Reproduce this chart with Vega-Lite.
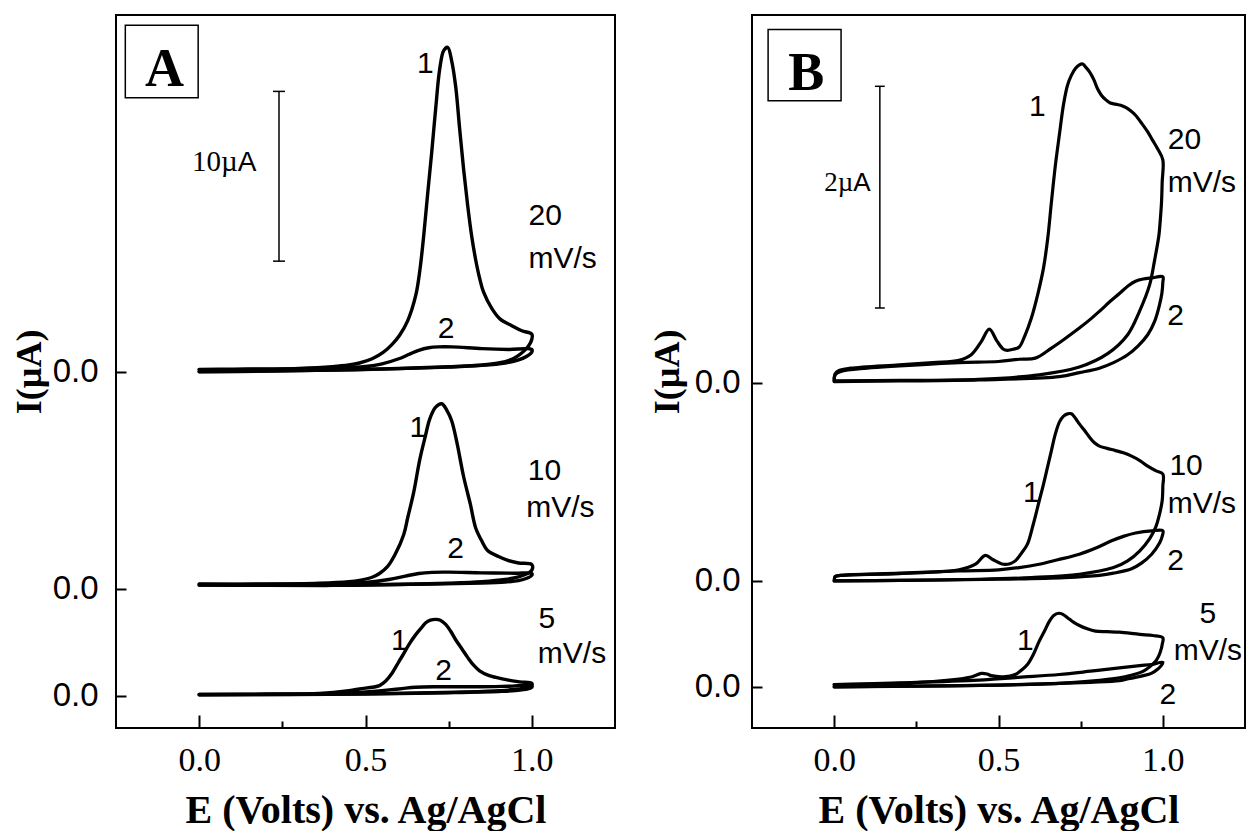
{
"$schema": "https://vega.github.io/schema/vega-lite/v6.json",
"background": "white",
"padding": {"left": 10, "top": 14, "right": 0, "bottom": 0},
"spacing": 137,
"bounds": "flush",
"config": {
  "view": {"stroke": "black", "strokeWidth": 2},
  "axis": {"grid": false, "domain": false, "tickColor": "black", "labelColor": "black", "titleColor": "black", "tickWidth": 2, "labelFlush": false, "labelOverlap": false}
},
"datasets": {
"A": [
{"g":"20-1","k":0,"E":0,"I":0.12},{"g":"20-1","k":1,"E":0.1,"I":0.14},{"g":"20-1","k":2,"E":0.2,"I":0.15},{"g":"20-1","k":3,"E":0.3,"I":0.18},{"g":"20-1","k":4,"E":0.4,"I":0.28},{"g":"20-1","k":5,"E":0.45,"I":0.38},{"g":"20-1","k":6,"E":0.482,"I":0.5},{"g":"20-1","k":7,"E":0.52,"I":0.75},{"g":"20-1","k":8,"E":0.554,"I":1.14},{"g":"20-1","k":9,"E":0.58,"I":1.6},{"g":"20-1","k":10,"E":0.602,"I":2.12},{"g":"20-1","k":11,"E":0.627,"I":3.0},{"g":"20-1","k":12,"E":0.651,"I":4.48},{"g":"20-1","k":13,"E":0.663,"I":5.9},{"g":"20-1","k":14,"E":0.675,"I":8.0},{"g":"20-1","k":15,"E":0.687,"I":10.5},{"g":"20-1","k":16,"E":0.699,"I":12.9},{"g":"20-1","k":17,"E":0.711,"I":15.5},{"g":"20-1","k":18,"E":0.723,"I":17.8},{"g":"20-1","k":19,"E":0.735,"I":18.9},{"g":"20-1","k":20,"E":0.747,"I":19.1},{"g":"20-1","k":21,"E":0.759,"I":18.3},{"g":"20-1","k":22,"E":0.771,"I":16.8},{"g":"20-1","k":23,"E":0.783,"I":14.3},{"g":"20-1","k":24,"E":0.795,"I":11.9},{"g":"20-1","k":25,"E":0.807,"I":9.8},{"g":"20-1","k":26,"E":0.819,"I":8.0},{"g":"20-1","k":27,"E":0.831,"I":6.6},{"g":"20-1","k":28,"E":0.843,"I":5.5},{"g":"20-1","k":29,"E":0.855,"I":4.67},{"g":"20-1","k":30,"E":0.88,"I":3.7},{"g":"20-1","k":31,"E":0.904,"I":3.1},{"g":"20-1","k":32,"E":0.94,"I":2.7},{"g":"20-1","k":33,"E":0.97,"I":2.4},{"g":"20-1","k":34,"E":1.0,"I":2.2},{"g":"20-1","k":35,"E":1.0,"I":1.9},{"g":"20-1","k":36,"E":0.99,"I":1.5},{"g":"20-1","k":37,"E":0.976,"I":1.2},{"g":"20-1","k":38,"E":0.96,"I":0.95},{"g":"20-1","k":39,"E":0.94,"I":0.72},{"g":"20-1","k":40,"E":0.9,"I":0.5},{"g":"20-1","k":41,"E":0.85,"I":0.38},{"g":"20-1","k":42,"E":0.75,"I":0.28},{"g":"20-1","k":43,"E":0.6,"I":0.18},{"g":"20-1","k":44,"E":0.4,"I":0.08},{"g":"20-1","k":45,"E":0.2,"I":0.02},{"g":"20-1","k":46,"E":0,"I":-0.02},
{"g":"20-2","k":0,"E":0,"I":0.1},{"g":"20-2","k":1,"E":0.2,"I":0.12},{"g":"20-2","k":2,"E":0.4,"I":0.2},{"g":"20-2","k":3,"E":0.5,"I":0.3},{"g":"20-2","k":4,"E":0.55,"I":0.45},{"g":"20-2","k":5,"E":0.6,"I":0.75},{"g":"20-2","k":6,"E":0.63,"I":1.0},{"g":"20-2","k":7,"E":0.66,"I":1.25},{"g":"20-2","k":8,"E":0.69,"I":1.4},{"g":"20-2","k":9,"E":0.72,"I":1.45},{"g":"20-2","k":10,"E":0.76,"I":1.45},{"g":"20-2","k":11,"E":0.85,"I":1.35},{"g":"20-2","k":12,"E":0.93,"I":1.3},{"g":"20-2","k":13,"E":1.0,"I":1.3},{"g":"20-2","k":14,"E":1.0,"I":1.15},{"g":"20-2","k":15,"E":0.985,"I":0.9},{"g":"20-2","k":16,"E":0.96,"I":0.68},{"g":"20-2","k":17,"E":0.92,"I":0.5},{"g":"20-2","k":18,"E":0.85,"I":0.36},{"g":"20-2","k":19,"E":0.75,"I":0.26},{"g":"20-2","k":20,"E":0.6,"I":0.17},{"g":"20-2","k":21,"E":0.4,"I":0.08},{"g":"20-2","k":22,"E":0.2,"I":0.03},{"g":"20-2","k":23,"E":0,"I":0.0},
{"g":"10-1","k":0,"E":0,"I":-12.52},{"g":"10-1","k":1,"E":0.2,"I":-12.52},{"g":"10-1","k":2,"E":0.36,"I":-12.47},{"g":"10-1","k":3,"E":0.45,"I":-12.38},{"g":"10-1","k":4,"E":0.482,"I":-12.3},{"g":"10-1","k":5,"E":0.52,"I":-12.12},{"g":"10-1","k":6,"E":0.542,"I":-11.9},{"g":"10-1","k":7,"E":0.566,"I":-11.5},{"g":"10-1","k":8,"E":0.59,"I":-10.74},{"g":"10-1","k":9,"E":0.615,"I":-9.6},{"g":"10-1","k":10,"E":0.627,"I":-8.6},{"g":"10-1","k":11,"E":0.645,"I":-7.1},{"g":"10-1","k":12,"E":0.663,"I":-5.2},{"g":"10-1","k":13,"E":0.68,"I":-3.8},{"g":"10-1","k":14,"E":0.693,"I":-2.8},{"g":"10-1","k":15,"E":0.711,"I":-2.1},{"g":"10-1","k":16,"E":0.729,"I":-1.9},{"g":"10-1","k":17,"E":0.745,"I":-2.3},{"g":"10-1","k":18,"E":0.759,"I":-2.9},{"g":"10-1","k":19,"E":0.775,"I":-4.2},{"g":"10-1","k":20,"E":0.795,"I":-6.2},{"g":"10-1","k":21,"E":0.815,"I":-7.8},{"g":"10-1","k":22,"E":0.831,"I":-9.2},{"g":"10-1","k":23,"E":0.85,"I":-10.0},{"g":"10-1","k":24,"E":0.867,"I":-10.54},{"g":"10-1","k":25,"E":0.9,"I":-10.9},{"g":"10-1","k":26,"E":0.928,"I":-11.13},{"g":"10-1","k":27,"E":0.96,"I":-11.28},{"g":"10-1","k":28,"E":1.0,"I":-11.37},{"g":"10-1","k":29,"E":1.0,"I":-11.7},{"g":"10-1","k":30,"E":0.985,"I":-11.92},{"g":"10-1","k":31,"E":0.96,"I":-12.1},{"g":"10-1","k":32,"E":0.92,"I":-12.25},{"g":"10-1","k":33,"E":0.85,"I":-12.38},{"g":"10-1","k":34,"E":0.75,"I":-12.47},{"g":"10-1","k":35,"E":0.6,"I":-12.55},{"g":"10-1","k":36,"E":0.4,"I":-12.6},{"g":"10-1","k":37,"E":0.2,"I":-12.6},{"g":"10-1","k":38,"E":0,"I":-12.58},
{"g":"10-2","k":0,"E":0,"I":-12.55},{"g":"10-2","k":1,"E":0.2,"I":-12.54},{"g":"10-2","k":2,"E":0.4,"I":-12.5},{"g":"10-2","k":3,"E":0.5,"I":-12.42},{"g":"10-2","k":4,"E":0.57,"I":-12.25},{"g":"10-2","k":5,"E":0.62,"I":-12.05},{"g":"10-2","k":6,"E":0.66,"I":-11.9},{"g":"10-2","k":7,"E":0.7,"I":-11.83},{"g":"10-2","k":8,"E":0.75,"I":-11.82},{"g":"10-2","k":9,"E":0.85,"I":-11.86},{"g":"10-2","k":10,"E":0.95,"I":-11.88},{"g":"10-2","k":11,"E":1.0,"I":-11.9},{"g":"10-2","k":12,"E":1.0,"I":-12.0},{"g":"10-2","k":13,"E":0.985,"I":-12.18},{"g":"10-2","k":14,"E":0.96,"I":-12.32},{"g":"10-2","k":15,"E":0.92,"I":-12.4},{"g":"10-2","k":16,"E":0.85,"I":-12.46},{"g":"10-2","k":17,"E":0.7,"I":-12.52},{"g":"10-2","k":18,"E":0.4,"I":-12.58},{"g":"10-2","k":19,"E":0,"I":-12.58},
{"g":"5-1","k":0,"E":0,"I":-19.02},{"g":"5-1","k":1,"E":0.2,"I":-19.0},{"g":"5-1","k":2,"E":0.361,"I":-18.96},{"g":"5-1","k":3,"E":0.45,"I":-18.8},{"g":"5-1","k":4,"E":0.482,"I":-18.7},{"g":"5-1","k":5,"E":0.542,"I":-18.5},{"g":"5-1","k":6,"E":0.56,"I":-18.25},{"g":"5-1","k":7,"E":0.578,"I":-17.82},{"g":"5-1","k":8,"E":0.6,"I":-17.1},{"g":"5-1","k":9,"E":0.614,"I":-16.65},{"g":"5-1","k":10,"E":0.63,"I":-16.1},{"g":"5-1","k":11,"E":0.651,"I":-15.5},{"g":"5-1","k":12,"E":0.67,"I":-15.05},{"g":"5-1","k":13,"E":0.681,"I":-14.8},{"g":"5-1","k":14,"E":0.695,"I":-14.65},{"g":"5-1","k":15,"E":0.711,"I":-14.6},{"g":"5-1","k":16,"E":0.725,"I":-14.65},{"g":"5-1","k":17,"E":0.741,"I":-14.9},{"g":"5-1","k":18,"E":0.756,"I":-15.3},{"g":"5-1","k":19,"E":0.771,"I":-15.8},{"g":"5-1","k":20,"E":0.79,"I":-16.35},{"g":"5-1","k":21,"E":0.807,"I":-16.84},{"g":"5-1","k":22,"E":0.825,"I":-17.3},{"g":"5-1","k":23,"E":0.843,"I":-17.63},{"g":"5-1","k":24,"E":0.87,"I":-17.9},{"g":"5-1","k":25,"E":0.892,"I":-18.02},{"g":"5-1","k":26,"E":0.93,"I":-18.18},{"g":"5-1","k":27,"E":0.964,"I":-18.28},{"g":"5-1","k":28,"E":1.0,"I":-18.37},{"g":"5-1","k":29,"E":1.0,"I":-18.48},{"g":"5-1","k":30,"E":0.988,"I":-18.6},{"g":"5-1","k":31,"E":0.96,"I":-18.7},{"g":"5-1","k":32,"E":0.904,"I":-18.8},{"g":"5-1","k":33,"E":0.8,"I":-18.88},{"g":"5-1","k":34,"E":0.602,"I":-18.96},{"g":"5-1","k":35,"E":0.3,"I":-19.02},{"g":"5-1","k":36,"E":0,"I":-19.04},
{"g":"5-2","k":0,"E":0,"I":-19.02},{"g":"5-2","k":1,"E":0.3,"I":-19.0},{"g":"5-2","k":2,"E":0.482,"I":-18.9},{"g":"5-2","k":3,"E":0.6,"I":-18.7},{"g":"5-2","k":4,"E":0.65,"I":-18.6},{"g":"5-2","k":5,"E":0.72,"I":-18.57},{"g":"5-2","k":6,"E":0.843,"I":-18.57},{"g":"5-2","k":7,"E":0.93,"I":-18.54},{"g":"5-2","k":8,"E":1.0,"I":-18.51},{"g":"5-2","k":9,"E":1.0,"I":-18.6},{"g":"5-2","k":10,"E":0.988,"I":-18.7},{"g":"5-2","k":11,"E":0.95,"I":-18.8},{"g":"5-2","k":12,"E":0.9,"I":-18.85},{"g":"5-2","k":13,"E":0.75,"I":-18.92},{"g":"5-2","k":14,"E":0.5,"I":-19.0},{"g":"5-2","k":15,"E":0,"I":-19.04}
],
"B": [
{"g":"20-1","k":0,"E":0,"I":0.02},{"g":"20-1","k":1,"E":0.003,"I":0.08},{"g":"20-1","k":2,"E":0.015,"I":0.11},{"g":"20-1","k":3,"E":0.05,"I":0.13},{"g":"20-1","k":4,"E":0.198,"I":0.16},{"g":"20-1","k":5,"E":0.3,"I":0.18},{"g":"20-1","k":6,"E":0.38,"I":0.2},{"g":"20-1","k":7,"E":0.417,"I":0.25},{"g":"20-1","k":8,"E":0.448,"I":0.37},{"g":"20-1","k":9,"E":0.472,"I":0.48},{"g":"20-1","k":10,"E":0.496,"I":0.37},{"g":"20-1","k":11,"E":0.515,"I":0.3},{"g":"20-1","k":12,"E":0.527,"I":0.29},{"g":"20-1","k":13,"E":0.545,"I":0.3},{"g":"20-1","k":14,"E":0.563,"I":0.32},{"g":"20-1","k":15,"E":0.58,"I":0.42},{"g":"20-1","k":16,"E":0.6,"I":0.58},{"g":"20-1","k":17,"E":0.62,"I":0.8},{"g":"20-1","k":18,"E":0.637,"I":1.03},{"g":"20-1","k":19,"E":0.65,"I":1.3},{"g":"20-1","k":20,"E":0.661,"I":1.62},{"g":"20-1","k":21,"E":0.673,"I":1.95},{"g":"20-1","k":22,"E":0.685,"I":2.22},{"g":"20-1","k":23,"E":0.698,"I":2.5},{"g":"20-1","k":24,"E":0.71,"I":2.67},{"g":"20-1","k":25,"E":0.722,"I":2.76},{"g":"20-1","k":26,"E":0.734,"I":2.82},{"g":"20-1","k":27,"E":0.745,"I":2.85},{"g":"20-1","k":28,"E":0.756,"I":2.86},{"g":"20-1","k":29,"E":0.766,"I":2.83},{"g":"20-1","k":30,"E":0.777,"I":2.79},{"g":"20-1","k":31,"E":0.79,"I":2.72},{"g":"20-1","k":32,"E":0.801,"I":2.64},{"g":"20-1","k":33,"E":0.813,"I":2.58},{"g":"20-1","k":34,"E":0.826,"I":2.54},{"g":"20-1","k":35,"E":0.84,"I":2.51},{"g":"20-1","k":36,"E":0.856,"I":2.5},{"g":"20-1","k":37,"E":0.872,"I":2.49},{"g":"20-1","k":38,"E":0.887,"I":2.47},{"g":"20-1","k":39,"E":0.902,"I":2.44},{"g":"20-1","k":40,"E":0.917,"I":2.4},{"g":"20-1","k":41,"E":0.935,"I":2.33},{"g":"20-1","k":42,"E":0.954,"I":2.25},{"g":"20-1","k":43,"E":0.97,"I":2.17},{"g":"20-1","k":44,"E":0.984,"I":2.1},{"g":"20-1","k":45,"E":1.0,"I":2.0},{"g":"20-1","k":46,"E":0.998,"I":1.8},{"g":"20-1","k":47,"E":0.996,"I":1.62},{"g":"20-1","k":48,"E":0.992,"I":1.45},{"g":"20-1","k":49,"E":0.988,"I":1.32},{"g":"20-1","k":50,"E":0.975,"I":1.1},{"g":"20-1","k":51,"E":0.96,"I":0.88},{"g":"20-1","k":52,"E":0.929,"I":0.64},{"g":"20-1","k":53,"E":0.893,"I":0.43},{"g":"20-1","k":54,"E":0.832,"I":0.26},{"g":"20-1","k":55,"E":0.746,"I":0.14},{"g":"20-1","k":56,"E":0.624,"I":0.07},{"g":"20-1","k":57,"E":0.44,"I":0.03},{"g":"20-1","k":58,"E":0.2,"I":0.02},{"g":"20-1","k":59,"E":0,"I":0.015},
{"g":"20-2","k":0,"E":0,"I":0.01},{"g":"20-2","k":1,"E":0.003,"I":0.07},{"g":"20-2","k":2,"E":0.02,"I":0.1},{"g":"20-2","k":3,"E":0.1,"I":0.13},{"g":"20-2","k":4,"E":0.198,"I":0.15},{"g":"20-2","k":5,"E":0.38,"I":0.18},{"g":"20-2","k":6,"E":0.5,"I":0.19},{"g":"20-2","k":7,"E":0.563,"I":0.21},{"g":"20-2","k":8,"E":0.612,"I":0.22},{"g":"20-2","k":9,"E":0.661,"I":0.31},{"g":"20-2","k":10,"E":0.7,"I":0.39},{"g":"20-2","k":11,"E":0.746,"I":0.49},{"g":"20-2","k":12,"E":0.78,"I":0.57},{"g":"20-2","k":13,"E":0.807,"I":0.64},{"g":"20-2","k":14,"E":0.84,"I":0.73},{"g":"20-2","k":15,"E":0.868,"I":0.8},{"g":"20-2","k":16,"E":0.895,"I":0.87},{"g":"20-2","k":17,"E":0.917,"I":0.91},{"g":"20-2","k":18,"E":0.94,"I":0.93},{"g":"20-2","k":19,"E":0.966,"I":0.94},{"g":"20-2","k":20,"E":1.0,"I":0.95},{"g":"20-2","k":21,"E":1.0,"I":0.9},{"g":"20-2","k":22,"E":0.997,"I":0.8},{"g":"20-2","k":23,"E":0.99,"I":0.7},{"g":"20-2","k":24,"E":0.975,"I":0.55},{"g":"20-2","k":25,"E":0.954,"I":0.43},{"g":"20-2","k":26,"E":0.925,"I":0.33},{"g":"20-2","k":27,"E":0.893,"I":0.25},{"g":"20-2","k":28,"E":0.85,"I":0.18},{"g":"20-2","k":29,"E":0.807,"I":0.13},{"g":"20-2","k":30,"E":0.746,"I":0.09},{"g":"20-2","k":31,"E":0.685,"I":0.054},{"g":"20-2","k":32,"E":0.44,"I":0.024},{"g":"20-2","k":33,"E":0.2,"I":0.015},{"g":"20-2","k":34,"E":0,"I":0.01},
{"g":"10-1","k":0,"E":0,"I":-1.78},{"g":"10-1","k":1,"E":0.003,"I":-1.74},{"g":"10-1","k":2,"E":0.02,"I":-1.73},{"g":"10-1","k":3,"E":0.198,"I":-1.714},{"g":"10-1","k":4,"E":0.38,"I":-1.68},{"g":"10-1","k":5,"E":0.43,"I":-1.63},{"g":"10-1","k":6,"E":0.46,"I":-1.55},{"g":"10-1","k":7,"E":0.484,"I":-1.59},{"g":"10-1","k":8,"E":0.515,"I":-1.63},{"g":"10-1","k":9,"E":0.535,"I":-1.625},{"g":"10-1","k":10,"E":0.551,"I":-1.6},{"g":"10-1","k":11,"E":0.57,"I":-1.53},{"g":"10-1","k":12,"E":0.588,"I":-1.45},{"g":"10-1","k":13,"E":0.605,"I":-1.28},{"g":"10-1","k":14,"E":0.624,"I":-1.06},{"g":"10-1","k":15,"E":0.637,"I":-0.91},{"g":"10-1","k":16,"E":0.649,"I":-0.76},{"g":"10-1","k":17,"E":0.661,"I":-0.61},{"g":"10-1","k":18,"E":0.673,"I":-0.46},{"g":"10-1","k":19,"E":0.686,"I":-0.35},{"g":"10-1","k":20,"E":0.698,"I":-0.3},{"g":"10-1","k":21,"E":0.71,"I":-0.28},{"g":"10-1","k":22,"E":0.722,"I":-0.28},{"g":"10-1","k":23,"E":0.734,"I":-0.32},{"g":"10-1","k":24,"E":0.746,"I":-0.37},{"g":"10-1","k":25,"E":0.762,"I":-0.43},{"g":"10-1","k":26,"E":0.777,"I":-0.49},{"g":"10-1","k":27,"E":0.792,"I":-0.54},{"g":"10-1","k":28,"E":0.807,"I":-0.57},{"g":"10-1","k":29,"E":0.83,"I":-0.59},{"g":"10-1","k":30,"E":0.856,"I":-0.61},{"g":"10-1","k":31,"E":0.88,"I":-0.63},{"g":"10-1","k":32,"E":0.905,"I":-0.66},{"g":"10-1","k":33,"E":0.93,"I":-0.7},{"g":"10-1","k":34,"E":0.954,"I":-0.75},{"g":"10-1","k":35,"E":0.978,"I":-0.79},{"g":"10-1","k":36,"E":1.0,"I":-0.82},{"g":"10-1","k":37,"E":1.0,"I":-0.93},{"g":"10-1","k":38,"E":0.998,"I":-1.06},{"g":"10-1","k":39,"E":0.99,"I":-1.18},{"g":"10-1","k":40,"E":0.978,"I":-1.3},{"g":"10-1","k":41,"E":0.96,"I":-1.4},{"g":"10-1","k":42,"E":0.93,"I":-1.51},{"g":"10-1","k":43,"E":0.893,"I":-1.6},{"g":"10-1","k":44,"E":0.85,"I":-1.66},{"g":"10-1","k":45,"E":0.746,"I":-1.72},{"g":"10-1","k":46,"E":0.6,"I":-1.75},{"g":"10-1","k":47,"E":0.44,"I":-1.765},{"g":"10-1","k":48,"E":0.2,"I":-1.775},{"g":"10-1","k":49,"E":0,"I":-1.78},
{"g":"10-2","k":0,"E":0,"I":-1.78},{"g":"10-2","k":1,"E":0.003,"I":-1.74},{"g":"10-2","k":2,"E":0.02,"I":-1.73},{"g":"10-2","k":3,"E":0.198,"I":-1.71},{"g":"10-2","k":4,"E":0.38,"I":-1.69},{"g":"10-2","k":5,"E":0.5,"I":-1.68},{"g":"10-2","k":6,"E":0.563,"I":-1.66},{"g":"10-2","k":7,"E":0.624,"I":-1.63},{"g":"10-2","k":8,"E":0.68,"I":-1.59},{"g":"10-2","k":9,"E":0.746,"I":-1.54},{"g":"10-2","k":10,"E":0.8,"I":-1.48},{"g":"10-2","k":11,"E":0.844,"I":-1.42},{"g":"10-2","k":12,"E":0.88,"I":-1.38},{"g":"10-2","k":13,"E":0.917,"I":-1.35},{"g":"10-2","k":14,"E":0.966,"I":-1.33},{"g":"10-2","k":15,"E":1.0,"I":-1.33},{"g":"10-2","k":16,"E":0.998,"I":-1.38},{"g":"10-2","k":17,"E":0.99,"I":-1.44},{"g":"10-2","k":18,"E":0.966,"I":-1.54},{"g":"10-2","k":19,"E":0.935,"I":-1.62},{"g":"10-2","k":20,"E":0.905,"I":-1.67},{"g":"10-2","k":21,"E":0.85,"I":-1.71},{"g":"10-2","k":22,"E":0.807,"I":-1.73},{"g":"10-2","k":23,"E":0.7,"I":-1.75},{"g":"10-2","k":24,"E":0.5,"I":-1.765},{"g":"10-2","k":25,"E":0.2,"I":-1.775},{"g":"10-2","k":26,"E":0,"I":-1.78},
{"g":"5-1","k":0,"E":0,"I":-2.71},{"g":"5-1","k":1,"E":0.198,"I":-2.7},{"g":"5-1","k":2,"E":0.38,"I":-2.66},{"g":"5-1","k":3,"E":0.42,"I":-2.64},{"g":"5-1","k":4,"E":0.448,"I":-2.61},{"g":"5-1","k":5,"E":0.465,"I":-2.615},{"g":"5-1","k":6,"E":0.478,"I":-2.63},{"g":"5-1","k":7,"E":0.515,"I":-2.64},{"g":"5-1","k":8,"E":0.551,"I":-2.62},{"g":"5-1","k":9,"E":0.57,"I":-2.58},{"g":"5-1","k":10,"E":0.588,"I":-2.53},{"g":"5-1","k":11,"E":0.606,"I":-2.44},{"g":"5-1","k":12,"E":0.624,"I":-2.32},{"g":"5-1","k":13,"E":0.64,"I":-2.23},{"g":"5-1","k":14,"E":0.655,"I":-2.14},{"g":"5-1","k":15,"E":0.668,"I":-2.09},{"g":"5-1","k":16,"E":0.683,"I":-2.07},{"g":"5-1","k":17,"E":0.696,"I":-2.08},{"g":"5-1","k":18,"E":0.71,"I":-2.11},{"g":"5-1","k":19,"E":0.728,"I":-2.15},{"g":"5-1","k":20,"E":0.746,"I":-2.18},{"g":"5-1","k":21,"E":0.77,"I":-2.21},{"g":"5-1","k":22,"E":0.795,"I":-2.23},{"g":"5-1","k":23,"E":0.83,"I":-2.235},{"g":"5-1","k":24,"E":0.868,"I":-2.24},{"g":"5-1","k":25,"E":0.93,"I":-2.26},{"g":"5-1","k":26,"E":0.97,"I":-2.27},{"g":"5-1","k":27,"E":1.0,"I":-2.29},{"g":"5-1","k":28,"E":0.998,"I":-2.35},{"g":"5-1","k":29,"E":0.996,"I":-2.38},{"g":"5-1","k":30,"E":0.988,"I":-2.45},{"g":"5-1","k":31,"E":0.978,"I":-2.5},{"g":"5-1","k":32,"E":0.96,"I":-2.55},{"g":"5-1","k":33,"E":0.941,"I":-2.59},{"g":"5-1","k":34,"E":0.9,"I":-2.63},{"g":"5-1","k":35,"E":0.868,"I":-2.65},{"g":"5-1","k":36,"E":0.78,"I":-2.68},{"g":"5-1","k":37,"E":0.685,"I":-2.7},{"g":"5-1","k":38,"E":0.5,"I":-2.715},{"g":"5-1","k":39,"E":0.2,"I":-2.725},{"g":"5-1","k":40,"E":0,"I":-2.73},
{"g":"5-2","k":0,"E":0,"I":-2.71},{"g":"5-2","k":1,"E":0.2,"I":-2.695},{"g":"5-2","k":2,"E":0.44,"I":-2.67},{"g":"5-2","k":3,"E":0.56,"I":-2.645},{"g":"5-2","k":4,"E":0.685,"I":-2.62},{"g":"5-2","k":5,"E":0.78,"I":-2.59},{"g":"5-2","k":6,"E":0.868,"I":-2.56},{"g":"5-2","k":7,"E":0.93,"I":-2.54},{"g":"5-2","k":8,"E":0.966,"I":-2.53},{"g":"5-2","k":9,"E":1.0,"I":-2.51},{"g":"5-2","k":10,"E":0.995,"I":-2.54},{"g":"5-2","k":11,"E":0.985,"I":-2.57},{"g":"5-2","k":12,"E":0.965,"I":-2.61},{"g":"5-2","k":13,"E":0.941,"I":-2.63},{"g":"5-2","k":14,"E":0.9,"I":-2.655},{"g":"5-2","k":15,"E":0.868,"I":-2.676},{"g":"5-2","k":16,"E":0.78,"I":-2.69},{"g":"5-2","k":17,"E":0.685,"I":-2.7},{"g":"5-2","k":18,"E":0.5,"I":-2.715},{"g":"5-2","k":19,"E":0,"I":-2.73}
]
},
"hconcat": [
{
  "width": 499, "height": 713,
  "encoding": {
    "x": {"field": "E", "type": "quantitative", "scale": {"domain": [-0.25, 1.25], "nice": false, "zero": false},
      "axis": {"values": [0, 0.25, 0.5, 0.75, 1], "labelExpr": "datum.value % 0.5 === 0 ? format(datum.value, '.1f') : ''",
        "tickSize": {"condition": {"test": "datum.value % 0.5 === 0", "value": -13}, "value": -7},
        "labelPadding": 28, "labelFont": "Liberation Serif", "labelFontSize": 34,
        "title": "E (Volts) vs. Ag/AgCl", "titleFont": "Liberation Serif", "titleFontWeight": "bold", "titleFontSize": 40, "titlePadding": 7}},
    "y": {"field": "I", "type": "quantitative", "scale": {"domain": [-21, 21], "nice": false, "zero": false},
      "axis": {"values": [0, -12.8, -19.1], "labelExpr": "'0.0'", "tickSize": -10, "labelPadding": 28,
        "labelFont": "Liberation Sans", "labelFontSize": 33,
        "title": "I(µA)", "titleFont": "Liberation Serif", "titleFontWeight": "bold", "titleFontSize": 36, "titlePadding": 4}}
  },
  "layer": [
    {"data": {"name": "A"},
     "mark": {"type": "line", "color": "black", "strokeWidth": 3.4, "interpolate": "catmull-rom", "strokeJoin": "round", "strokeCap": "round"},
     "encoding": {"detail": {"field": "g", "type": "nominal"}, "order": {"field": "k", "type": "quantitative"}}},
    {"data": {"values": [{"E": -0.222, "E2": -0.003, "I": 16.13, "I2": 20.39}]},
     "mark": {"type": "rect", "fill": "white", "stroke": "black", "strokeWidth": 1.5},
     "encoding": {"x2": {"field": "E2"}, "y2": {"field": "I2"}}},
    {"data": {"values": [{"t": "A", "E": -0.104, "I": 16.82}]},
     "mark": {"type": "text", "font": "Liberation Serif", "fontWeight": "bold", "fontSize": 54, "align": "center", "baseline": "alphabetic", "color": "black"},
     "encoding": {"text": {"field": "t"}}},
    {"data": {"values": [{"E": 0.24, "I": 6.5, "I2": 16.5}]},
     "mark": {"type": "rule", "color": "black", "strokeWidth": 1.5},
     "encoding": {"y2": {"field": "I2"}}},
    {"data": {"values": [{"E": 0.222, "E2": 0.258, "I": 16.5}, {"E": 0.222, "E2": 0.258, "I": 6.5}]},
     "mark": {"type": "rule", "color": "black", "strokeWidth": 1.5},
     "encoding": {"x2": {"field": "E2"}}},
    {"data": {"values": [{"t": "10µ", "E": 0.116, "I": 11.8}]},
     "mark": {"type": "text", "font": "Liberation Serif", "fontSize": 29, "align": "right", "baseline": "alphabetic", "color": "black"},
     "encoding": {"text": {"field": "t"}}},
    {"data": {"values": [{"t": "A", "E": 0.116, "I": 11.8}]},
     "mark": {"type": "text", "font": "Liberation Sans", "fontSize": 28, "align": "left", "baseline": "alphabetic", "color": "black"},
     "encoding": {"text": {"field": "t"}}},
    {"data": {"values": [{"t": "1", "E": 0.68, "I": 18.1}, {"t": "2", "E": 0.742, "I": 2.5}, {"t": "1", "E": 0.657, "I": -3.31}, {"t": "2", "E": 0.771, "I": -10.47}, {"t": "1", "E": 0.602, "I": -15.88}, {"t": "5", "E": 1.045, "I": -14.6}, {"t": "2", "E": 0.735, "I": -17.64}]},
     "mark": {"type": "text", "font": "Liberation Sans", "fontSize": 30, "align": "center", "baseline": "middle", "color": "black"},
     "encoding": {"text": {"field": "t"}}},
    {"data": {"values": [{"t": "20", "E": 0.99, "I": 9.16}, {"t": "mV/s", "E": 0.99, "I": 6.65}, {"t": "10", "E": 0.988, "I": -5.86}, {"t": "mV/s", "E": 0.983, "I": -8.02}, {"t": "mV/s", "E": 1.018, "I": -16.66}]},
     "mark": {"type": "text", "font": "Liberation Sans", "fontSize": 30, "align": "left", "baseline": "middle", "color": "black"},
     "encoding": {"text": {"field": "t"}}}
  ]
},
{
  "width": 493, "height": 713,
  "encoding": {
    "x": {"field": "E", "type": "quantitative", "scale": {"domain": [-0.25, 1.25], "nice": false, "zero": false},
      "axis": {"values": [0, 0.25, 0.5, 0.75, 1], "labelExpr": "datum.value % 0.5 === 0 ? format(datum.value, '.1f') : ''",
        "tickSize": {"condition": {"test": "datum.value % 0.5 === 0", "value": -13}, "value": -7},
        "labelPadding": 28, "labelFont": "Liberation Serif", "labelFontSize": 34,
        "title": "E (Volts) vs. Ag/AgCl", "titleFont": "Liberation Serif", "titleFontWeight": "bold", "titleFontSize": 40, "titlePadding": 7}},
    "y": {"field": "I", "type": "quantitative", "scale": {"domain": [-3.1, 3.3], "nice": false, "zero": false},
      "axis": {"values": [0, -1.78, -2.73], "labelExpr": "'0.0'", "tickSize": -10, "labelPadding": 22,
        "labelFont": "Liberation Sans", "labelFontSize": 33,
        "title": "I(µA)", "titleFont": "Liberation Serif", "titleFontWeight": "bold", "titleFontSize": 36, "titlePadding": 8}}
  },
  "layer": [
    {"data": {"name": "B"},
     "mark": {"type": "line", "color": "black", "strokeWidth": 3.2, "interpolate": "catmull-rom", "strokeJoin": "round", "strokeCap": "round"},
     "encoding": {"detail": {"field": "g", "type": "nominal"}, "order": {"field": "k", "type": "quantitative"}}},
    {"data": {"values": [{"E": -0.201, "E2": 0.021, "I": 2.53, "I2": 3.17}]},
     "mark": {"type": "rect", "fill": "white", "stroke": "black", "strokeWidth": 1.5},
     "encoding": {"x2": {"field": "E2"}, "y2": {"field": "I2"}}},
    {"data": {"values": [{"t": "B", "E": -0.085, "I": 2.63}]},
     "mark": {"type": "text", "font": "Liberation Serif", "fontWeight": "bold", "fontSize": 54, "align": "center", "baseline": "alphabetic", "color": "black"},
     "encoding": {"text": {"field": "t"}}},
    {"data": {"values": [{"E": 0.139, "I": 0.67, "I2": 2.66}]},
     "mark": {"type": "rule", "color": "black", "strokeWidth": 1.5},
     "encoding": {"y2": {"field": "I2"}}},
    {"data": {"values": [{"E": 0.124, "E2": 0.154, "I": 2.66}, {"E": 0.124, "E2": 0.154, "I": 0.67}]},
     "mark": {"type": "rule", "color": "black", "strokeWidth": 1.5},
     "encoding": {"x2": {"field": "E2"}}},
    {"data": {"values": [{"t": "2µ", "E": 0.058, "I": 1.72}]},
     "mark": {"type": "text", "font": "Liberation Serif", "fontSize": 27, "align": "right", "baseline": "alphabetic", "color": "black"},
     "encoding": {"text": {"field": "t"}}},
    {"data": {"values": [{"t": "A", "E": 0.058, "I": 1.72}]},
     "mark": {"type": "text", "font": "Liberation Sans", "fontSize": 26, "align": "left", "baseline": "alphabetic", "color": "black"},
     "encoding": {"text": {"field": "t"}}},
    {"data": {"values": [{"t": "1", "E": 0.618, "I": 2.47}, {"t": "2", "E": 1.039, "I": 0.6}, {"t": "1", "E": 0.6, "I": -0.99}, {"t": "2", "E": 1.039, "I": -1.6}, {"t": "1", "E": 0.582, "I": -2.32}, {"t": "5", "E": 1.137, "I": -2.08}, {"t": "2", "E": 1.015, "I": -2.8}]},
     "mark": {"type": "text", "font": "Liberation Sans", "fontSize": 30, "align": "center", "baseline": "middle", "color": "black"},
     "encoding": {"text": {"field": "t"}}},
    {"data": {"values": [{"t": "20", "E": 1.015, "I": 2.18}, {"t": "mV/s", "E": 1.015, "I": 1.79}, {"t": "10", "E": 1.02, "I": -0.75}, {"t": "mV/s", "E": 1.015, "I": -1.09}, {"t": "mV/s", "E": 1.033, "I": -2.41}]},
     "mark": {"type": "text", "font": "Liberation Sans", "fontSize": 30, "align": "left", "baseline": "middle", "color": "black"},
     "encoding": {"text": {"field": "t"}}}
  ]
}
]
}
